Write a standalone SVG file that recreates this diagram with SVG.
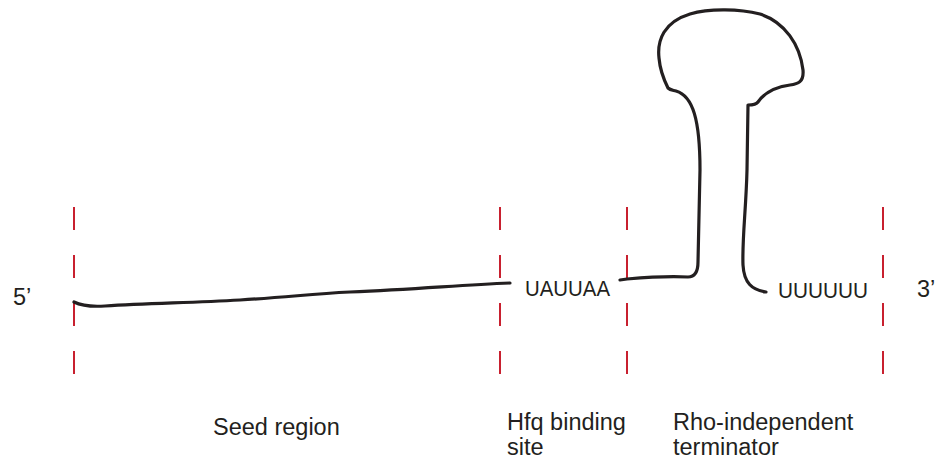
<svg xmlns="http://www.w3.org/2000/svg" width="940" height="463" viewBox="0 0 940 463">
<style>
.guide{stroke:#c8202f;stroke-width:2;stroke-dasharray:23 25;fill:none}
.rna{stroke:#231f20;stroke-width:3.2;fill:none;stroke-linecap:round;stroke-linejoin:round}
.lbl{font-family:"Liberation Sans",Arial,sans-serif;font-size:23.5px;fill:#231f20}
.seq{font-family:"Liberation Sans",Arial,sans-serif;font-size:22px;fill:#231f20}
</style>
<rect width="940" height="463" fill="#ffffff"/>
<g id="guides">
<line class="guide" x1="74" y1="207" x2="74" y2="375"/>
<line class="guide" x1="500" y1="207" x2="500" y2="375"/>
<line class="guide" x1="627" y1="207" x2="627" y2="375"/>
<line class="guide" x1="883" y1="207" x2="883" y2="375"/>
</g>
<g id="connectors">
<path id="seed-strand" class="rna" d="M74,302 C80,305 90,307 105,306 C150,303 190,303 240,300 C290,297 310,294 350,292 C420,289 460,285 510,283"/>
<path id="terminator-strand" class="rna" d="M620,280 L627,279 C650,277 672,276 688,277 C696,277 698,270 698,262 L700,170 C700,120 693,96 676,91 C672,90 670,90 668,88 C664,80 660,70 659,58 C657,40 664,22 690,14 C710,8 740,9 760,14 C785,22 800,45 803,70 C804,82 798,84 790,85 C775,87 765,92 758,102 C756,105 752,105 748,105 L747,170 C746,210 742,240 743,265 C744,283 752,290 766,292"/>
</g>
<g id="end5"><text class="lbl" x="13" y="305">5’</text></g>
<g id="end3"><text class="lbl" x="917" y="297">3’</text></g>
<g id="hfq-seq"><text class="seq" x="525" y="296" textLength="85" lengthAdjust="spacingAndGlyphs">UAUUAA</text></g>
<g id="polyU"><text class="seq" x="778" y="298" textLength="90" lengthAdjust="spacingAndGlyphs">UUUUUU</text></g>
<g id="seed-label"><text class="lbl" x="213" y="435">Seed region</text></g>
<g id="hfq-label"><text class="lbl" x="507" y="430">Hfq binding</text><text class="lbl" x="507" y="455">site</text></g>
<g id="rho-label"><text class="lbl" x="673" y="430">Rho-independent</text><text class="lbl" x="673" y="455">terminator</text></g>
</svg>
